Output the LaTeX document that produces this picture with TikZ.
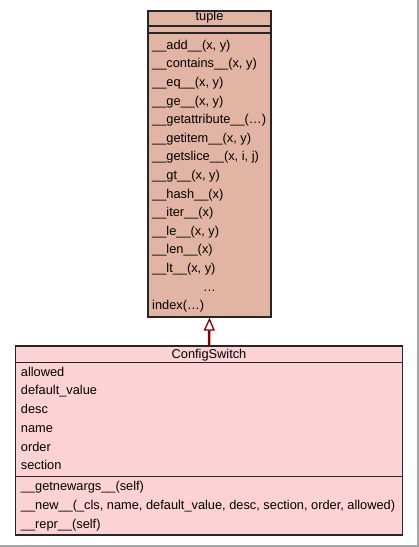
\documentclass[tikz,border=0pt]{standalone}
\usepackage{fontspec}
\setmainfont{Liberation Sans}
\usetikzlibrary{arrows.meta}
\definecolor{tuplefill}{RGB}{226,180,164}
\definecolor{switchfill}{RGB}{252,210,212}
\definecolor{inherit}{RGB}{128,0,0}
\tikzset{
  classbox/.style={draw=black!85, line width=1.3pt, inner sep=0pt},
  member/.style={anchor=base west, inner sep=0pt, font=\fontsize{12.8}{15}\selectfont},
  classname/.style={anchor=base, inner sep=0pt, font=\fontsize{12.8}{15}\selectfont},
  parent/.style={draw=inherit, line width=2.5pt, -{Triangle[fill=white, length=13pt, width=11pt, line width=1.3pt]}}
}
\begin{document}
\begin{tikzpicture}[x=1pt, y=-1pt]
  \useasboundingbox (0,0) rectangle (419,547);
  \draw[gray!70, line width=1.5pt] (0,546) -- (418,546) -- (418,0);
  \node[classbox, fill=tuplefill, minimum width=123pt, minimum height=306pt] (tuple) at (209.5,164) {};
  \node[classbox, fill=switchfill, minimum width=386.6pt, minimum height=189pt] (switch) at (209,440.5) {};
  \draw[draw=black!85, line width=1.3pt]
    (tuple.west |- 0,26) -- (tuple.east |- 0,26)
    (tuple.west |- 0,33) -- (tuple.east |- 0,33)
    (switch.west |- 0,362.7) -- (switch.east |- 0,362.7)
    (switch.west |- 0,476.7) -- (switch.east |- 0,476.7);
  \draw
    (209.5,20.7) node[classname] (tname){tuple}
    (152,49.3) node[member] (t0){\_\_add\_\_(x, y)}
    (152,67.9) node[member] (t1){\_\_contains\_\_(x, y)}
    (152,86.5) node[member] (t2){\_\_eq\_\_(x, y)}
    (152,105.1) node[member] (t3){\_\_ge\_\_(x, y)}
    (152,123.7) node[member] (t4){\_\_getattribute\_\_(…)}
    (152,142.3) node[member] (t5){\_\_getitem\_\_(x, y)}
    (152,160.9) node[member] (t6){\_\_getslice\_\_(x, i, j)}
    (152,179.5) node[member] (t7){\_\_gt\_\_(x, y)}
    (152,198.1) node[member] (t8){\_\_hash\_\_(x)}
    (152,216.7) node[member] (t9){\_\_iter\_\_(x)}
    (152,235.3) node[member] (t10){\_\_le\_\_(x, y)}
    (152,253.9) node[member] (t11){\_\_len\_\_(x)}
    (152,272.5) node[member] (t12){\_\_lt\_\_(x, y)}
    (209.5,291.1) node[classname] (t13){…}
    (152,309.7) node[member] (t14){index(…)};
  \draw
    (209,358.3) node[classname] (sname){ConfigSwitch}
    (20.7,376) node[member] (s0){allowed}
    (20.7,394.75) node[member] (s1){default\_value}
    (20.7,413.5) node[member] (s2){desc}
    (20.7,432.25) node[member] (s3){name}
    (20.7,451) node[member] (s4){order}
    (20.7,469.75) node[member] (s5){section}
    (20.7,490.7) node[member] (s6){\_\_getnewargs\_\_(self)}
    (20.7,509.7) node[member] (s7){\_\_new\_\_(\_cls, name, default\_value, desc, section, order, allowed)}
    (20.7,528.7) node[member] (s8){\_\_repr\_\_(self)};
  \begin{scope}[parent]
    \draw (switch.north) to (tuple.south);
  \end{scope}
\end{tikzpicture}
\end{document}
